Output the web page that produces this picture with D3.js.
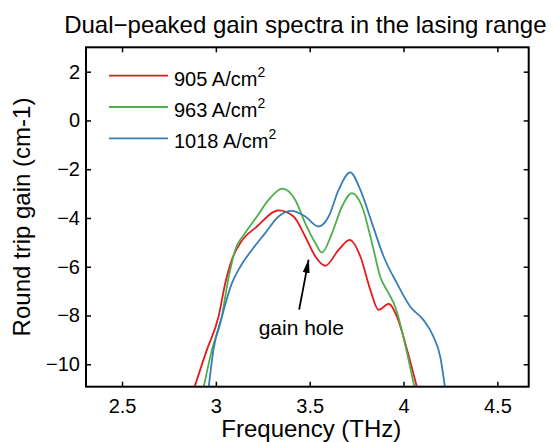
<!DOCTYPE html>
<html>
<head>
<meta charset="utf-8">
<script src="https://cdn.jsdelivr.net/npm/d3@7"></script>
<style>
body{margin:0;background:#fff;}
text{font-family:"Liberation Sans",Arial,sans-serif;fill:#000;}
</style>
</head>
<body>
<div id="chart"></div>
<script>
'use strict';

// data (THz, cm-1)
var freq905 = [2.875, 2.952, 3.014, 3.050, 3.085, 3.130, 3.219, 3.334, 3.414, 3.476, 3.530, 3.583, 3.654, 3.713, 3.770, 3.823, 3.867, 3.921, 3.965, 4.019, 4.080]
var gain905 = [-11.2, -9.41, -8.05, -6.68, -5.72, -5.03, -4.35, -3.69, -3.94, -4.76, -5.58, -5.96, -5.31, -4.90, -5.58, -6.95, -7.77, -7.52, -8.05, -9.41, -11.2]

var freq963 = [2.928, 2.979, 3.032, 3.062, 3.103, 3.156, 3.219, 3.281, 3.355, 3.423, 3.476, 3.530, 3.565, 3.619, 3.672, 3.725, 3.779, 3.832, 3.876, 3.921, 3.956, 4.015, 4.065]
var gain963 = [-11.2, -9.41, -8.05, -6.68, -5.31, -4.62, -3.94, -3.26, -2.80, -3.26, -4.21, -5.03, -5.42, -4.62, -3.53, -2.98, -3.53, -5.03, -6.41, -7.09, -7.64, -9.41, -11.2]

var freq1018 = [2.958, 2.987, 3.032, 3.085, 3.130, 3.192, 3.263, 3.334, 3.405, 3.476, 3.547, 3.601, 3.654, 3.716, 3.770, 3.832, 3.894, 3.965, 4.036, 4.107, 4.160, 4.196, 4.225]
var gain1018 = [-11.2, -9.41, -8.05, -6.68, -6.00, -5.31, -4.62, -3.94, -3.71, -3.94, -4.35, -3.94, -2.85, -2.13, -2.85, -4.21, -5.58, -6.68, -7.64, -8.19, -8.88, -9.70, -11.2]

var seriesNames = ["905", "963", "1018"]
var seriesColors = ["#e41a1c", "#4daf4a", "#377eb8"]

var xTicks = [2.5, 3, 3.5, 4, 4.5]
var yTicks = [2, 0, -2, -4, -6, -8, -10]

var title = "Dual\u2212peaked gain spectra in the lasing range"
var xLabel = "Frequency (THz)"
var yLabel = "Round trip gain (cm-1)"
var noteText = "gain hole"

var W = 554, H = 442
var mLeft = 86, mRight = 528.7, mTop = 47.3, mBottom = 386.7

var x = d3.scaleLinear().domain([2.308, 4.667]).range([mLeft, mRight])
var y = d3.scaleLinear().domain([-10.92, 3]).range([mBottom, mTop])

function minusFmt(d){
	return d < 0 ? "\u2212" + Math.abs(d) : "" + d
}

var svg = d3.select("#chart").append("svg").attr("width", W).attr("height", H)

svg.append("defs").append("clipPath").attr("id", "plotclip")
	.append("rect").attr("x", mLeft).attr("y", mTop).attr("width", mRight - mLeft).attr("height", mBottom - mTop)

// curves
var series = [
	{name: seriesNames[0], f: freq905, g: gain905, color: seriesColors[0]},
	{name: seriesNames[1], f: freq963, g: gain963, color: seriesColors[1]},
	{name: seriesNames[2], f: freq1018, g: gain1018, color: seriesColors[2]}
]

var line = d3.line()
	.x(function(d){ return x(d[0]) })
	.y(function(d){ return y(d[1]) })
	.curve(d3.curveMonotoneX)

svg.append("g").attr("clip-path", "url(#plotclip)")
	.selectAll("path")
	.data(series)
	.enter().append("path")
	.attr("d", function(s){
		return line(s.f.map(function(f, i){ return [f, s.g[i]] }))
	})
	.attr("fill", "none")
	.attr("stroke", function(s){ return s.color })
	.attr("stroke-width", 1.8)

// axes, matlab style box with inward ticks
var tl = 5
var xAxis = svg.append("g").attr("transform", "translate(0," + mBottom + ")")
	.call(d3.axisBottom(x).tickValues(xTicks).tickSizeInner(-tl).tickSizeOuter(0).tickPadding(12).tickFormat(function(d){ return d }))
var xTop = svg.append("g").attr("transform", "translate(0," + mTop + ")")
	.call(d3.axisTop(x).tickValues(xTicks).tickSizeInner(-tl).tickSizeOuter(0).tickFormat(""))
var yAxis = svg.append("g").attr("transform", "translate(" + mLeft + ",0)")
	.call(d3.axisLeft(y).tickValues(yTicks).tickSizeInner(-tl).tickSizeOuter(0).tickPadding(6).tickFormat(minusFmt))
var yRight = svg.append("g").attr("transform", "translate(" + mRight + ",0)")
	.call(d3.axisRight(y).tickValues(yTicks).tickSizeInner(-tl).tickSizeOuter(0).tickFormat(""))

;[xAxis, xTop, yAxis, yRight].forEach(function(a){
	a.select(".domain").remove()
	a.selectAll("line").attr("stroke", "#000").attr("stroke-width", 1.5)
	a.selectAll("text").style("font-size", "20px").style("font-family", "Liberation Sans, Arial, sans-serif").attr("fill", "#000")
})
xAxis.selectAll("text").attr("dy", "0.71em")

svg.append("rect").attr("x", mLeft).attr("y", mTop).attr("width", mRight - mLeft).attr("height", mBottom - mTop)
	.attr("fill", "none").attr("stroke", "#000").attr("stroke-width", 2)

// labels
svg.append("text").text(title).attr("x", (mLeft + mRight) / 2 - 2).attr("y", 33)
	.attr("text-anchor", "middle").style("font-size", "24px")
svg.append("text").text(xLabel).attr("x", (mLeft + mRight) / 2 + 4).attr("y", 437)
	.attr("text-anchor", "middle").style("font-size", "24px")
svg.append("text").text(yLabel)
	.attr("transform", "translate(30," + ((mTop + mBottom) / 2) + ") rotate(-90)")
	.attr("text-anchor", "middle").style("font-size", "24px")

// legend
var legend = svg.append("g")
series.forEach(function(s, i){
	var ly = 75.7 + i * 31.3
	legend.append("line").attr("x1", 109).attr("x2", 168).attr("y1", ly).attr("y2", ly)
		.attr("stroke", s.color).attr("stroke-width", 1.8)
	var t = legend.append("text").attr("x", 174).attr("y", ly + 10).style("font-size", "20px")
	t.append("tspan").text(s.name + " A/cm")
	t.append("tspan").text("2").attr("dy", -9).style("font-size", "14px")
})

// annotation, long narrow arrow head like matlab
svg.append("defs").append("marker").attr("id", "arrowhead")
	.attr("viewBox", "0 0 14 10").attr("refX", 13).attr("refY", 5)
	.attr("markerWidth", 8).attr("markerHeight", 5.5).attr("orient", "auto")
	.append("path").attr("d", "M0,1.5 L14,5 L0,8.5 z").attr("fill", "#000")
svg.append("line").attr("x1", x(3.444)).attr("y1", y(-7.76)).attr("x2", x(3.494)).attr("y2", y(-5.72))
	.attr("stroke", "#000").attr("stroke-width", 1.8).attr("marker-end", "url(#arrowhead)")
svg.append("text").text(noteText).attr("x", x(3.455)).attr("y", y(-8.8))
	.attr("text-anchor", "middle").style("font-size", "21px")
</script>
</body>
</html>
